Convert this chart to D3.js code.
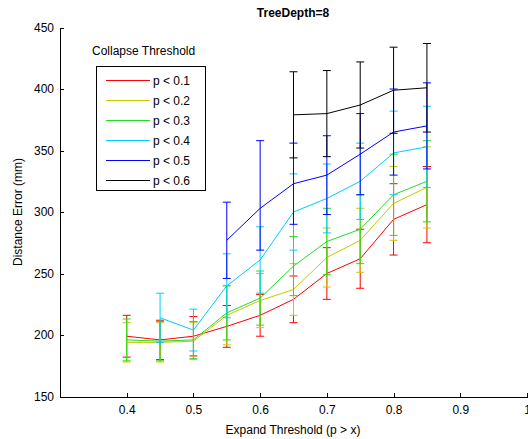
<!DOCTYPE html>
<html>
<head>
<meta charset="utf-8">
<script src="https://cdn.jsdelivr.net/npm/d3@7"></script>
<style>
  body { margin: 0; background: #fff; }
  text { font-family: "Liberation Sans", Arial, sans-serif; }
</style>
</head>
<body>
<svg id="chart"></svg>
<script>
// expand thresholds (x)
const xs = [0.4, 0.45, 0.5, 0.55, 0.6, 0.65, 0.7, 0.75, 0.8, 0.85];
const xTicks = [0.4, 0.5, 0.6, 0.7, 0.8, 0.9, 1];
const yTicks = [150, 200, 250, 300, 350, 400, 450];
const labels = ["p < 0.1", "p < 0.2", "p < 0.3", "p < 0.4", "p < 0.5", "p < 0.6"];
const colors = ["#ff0000", "#c8c800", "#22dd22", "#00ccff", "#0000ff", "#000000"];

// mean distance error (mm) and error bar half-length per collapse threshold
const red = [199, 196, 199, 207, 216, 229, 250, 262, 294, 306];
const redErr = [17, 16, 16, 17, 17, 19, 21, 24, 29, 31];
const yellow = [194, 194, 195, 216, 228, 237, 263, 277, 307, 320];
const yellowErr = [16, 16, 15, 24, 22, 21, 24, 26, 30, 33];
const green = [196, 195, 196, 218, 230, 256, 276, 286, 314, 325];
const greenErr = [17, 16, 15, 22, 22, 24, 27, 28, 33, 33];
const cyan = [null, 214, 204, 240, 261, 300, 311, 325, 348, 353];
const cyanErr = [null, 20, 17, 26, 27, 31, 28, 31, 34, 33];
const blue = [null, null, null, 277, 303, 323, 330, 347, 365, 370];
const blueErr = [null, null, null, 31, 34, 33, 32, 33, 35, 35];
const blueErrUp = [null, null, null, 31, 55, 33, 32, 33, 35, 35];
const black = [null, null, null, null, null, 379, 380, 387, 399, 401];
const blackErr = [null, null, null, null, null, 35, 35, 35, 35, 36];

const series = [
  {vals: red, lo: redErr, hi: redErr},
  {vals: yellow, lo: yellowErr, hi: yellowErr},
  {vals: green, lo: greenErr, hi: greenErr},
  {vals: cyan, lo: cyanErr, hi: cyanErr},
  {vals: blue, lo: blueErr, hi: blueErrUp},
  {vals: black, lo: blackErr, hi: blackErr}
];

const width = 528, height = 439;
const svg = d3.select("#chart").attr("width", width).attr("height", height);

const x = d3.scaleLinear().domain([0.3, 1.0]).range([60, 527]);
const y = d3.scaleLinear().domain([150, 450]).range([396.5, 27.5]);

// axes (ticks point inward like matlab)
const gx = svg.append("g").attr("transform", `translate(0,${y(150)})`)
  .call(d3.axisBottom(x).tickValues(xTicks).tickSizeInner(-4).tickSizeOuter(0).tickPadding(9)
    .tickFormat(d => d === 1 ? "1" : d3.format(".1f")(d)));
const gy = svg.append("g").attr("transform", `translate(${x(0.3)},0)`)
  .call(d3.axisLeft(y).tickValues(yTicks).tickSizeInner(-4).tickSizeOuter(0).tickPadding(6));
[gx, gy].forEach(g => {
  g.selectAll("path, line").attr("stroke", "#000").attr("shape-rendering", "crispEdges");
  g.selectAll("text").attr("font-size", 12).attr("fill", "#000");
});

// data
const line = d3.line()
  .defined(d => d.v != null)
  .x(d => x(d.x))
  .y(d => y(d.v));

const cap = 4;
series.forEach((s, i) => {
  const pts = xs.map((xv, j) => ({x: xv, v: s.vals[j], lo: s.lo[j], hi: s.hi[j]}))
    .filter(d => d.v != null);
  const g = svg.append("g").attr("stroke", colors[i]).attr("fill", "none").attr("stroke-width", 1);
  g.append("path").datum(pts).attr("d", line);
  const eb = g.selectAll("g.eb").data(pts).enter().append("g");
  eb.append("line")
    .attr("x1", d => x(d.x)).attr("x2", d => x(d.x))
    .attr("y1", d => y(d.v - d.lo)).attr("y2", d => y(d.v + d.hi));
  eb.append("line")
    .attr("x1", d => x(d.x) - cap).attr("x2", d => x(d.x) + cap)
    .attr("y1", d => y(d.v + d.hi)).attr("y2", d => y(d.v + d.hi));
  eb.append("line")
    .attr("x1", d => x(d.x) - cap).attr("x2", d => x(d.x) + cap)
    .attr("y1", d => y(d.v - d.lo)).attr("y2", d => y(d.v - d.lo));
});

// title and labels
svg.append("text").attr("x", 293).attr("y", 17).attr("text-anchor", "middle")
  .attr("font-size", 12).attr("font-weight", "bold").text("TreeDepth=8");
svg.append("text").attr("x", 293).attr("y", 434).attr("text-anchor", "middle")
  .attr("font-size", 12).text("Expand Threshold (p > x)");
svg.append("text").attr("transform", "translate(22,212) rotate(-90)").attr("text-anchor", "middle")
  .attr("font-size", 12).text("Distance Error (mm)");
svg.append("text").attr("x", 92).attr("y", 55).attr("font-size", 12).text("Collapse Threshold");

// legend
const lg = svg.append("g");
lg.append("rect").attr("x", 96.5).attr("y", 66.5).attr("width", 109).attr("height", 124)
  .attr("fill", "#fff").attr("stroke", "#000").attr("shape-rendering", "crispEdges");
labels.forEach((lab, i) => {
  const yy = 80.5 + i * 20;
  lg.append("line").attr("x1", 106).attr("x2", 150).attr("y1", yy).attr("y2", yy)
    .attr("stroke", colors[i]).attr("stroke-width", 1);
  lg.append("text").attr("x", 153).attr("y", yy + 4.5).attr("font-size", 12).text(lab);
});
</script>
</body>
</html>
